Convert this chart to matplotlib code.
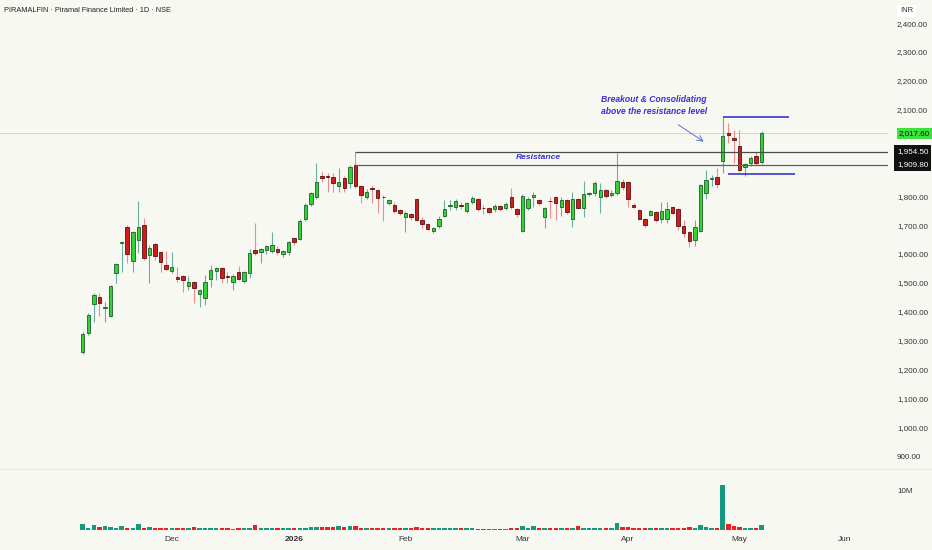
import numpy as np
import matplotlib.pyplot as plt
import matplotlib.transforms as mtransforms

plt.rcParams['font.family'] = ['Liberation Sans', 'DejaVu Sans']

# daily OHLC (INR)
opens = [1260, 1326, 1427, 1451, 1414, 1385, 1534, 1638, 1693, 1575,
         1648, 1700, 1596, 1634, 1607, 1562, 1541, 1520, 1524, 1489,
         1503, 1461, 1447, 1513, 1541, 1551, 1521, 1503, 1537, 1506,
         1534, 1613, 1606, 1613, 1610, 1617, 1600, 1606, 1655, 1652,
         1721, 1773, 1797, 1870, 1868, 1867, 1835, 1863, 1846, 1908,
         1835, 1797, 1826, 1822, 1798, 1776, 1769, 1752, 1728, 1738,
         1790, 1717, 1704, 1679, 1697, 1731, 1765, 1762, 1767, 1749,
         1780, 1790, 1760, 1759, 1756, 1766, 1759, 1797, 1756, 1679,
         1759, 1797, 1787, 1728, 1784, 1797, 1762, 1787, 1721, 1790,
         1759, 1808, 1811, 1797, 1822, 1804, 1811, 1849, 1849, 1769,
         1752, 1721, 1735, 1745, 1721, 1721, 1762, 1756, 1697, 1676,
         1648, 1679, 1813, 1859, 1867, 1922, 2020, 2003, 1975, 1902,
         1914, 1940, 1917]
highs = [1328, 1395, 1465, 1465, 1433, 1492, 1568, 1645, 1700, 1680,
         1783, 1724, 1631, 1638, 1610, 1610, 1607, 1555, 1527, 1524,
         1507, 1478, 1527, 1562, 1555, 1555, 1537, 1531, 1558, 1541,
         1617, 1707, 1620, 1631, 1676, 1627, 1614, 1645, 1660, 1720,
         1776, 1815, 1916, 1885, 1880, 1880, 1898, 1870, 1908, 1953,
         1838, 1825, 1839, 1825, 1805, 1792, 1781, 1756, 1748, 1742,
         1794, 1729, 1708, 1693, 1731, 1787, 1787, 1790, 1780, 1780,
         1801, 1794, 1769, 1762, 1773, 1770, 1780, 1828, 1759, 1808,
         1797, 1815, 1790, 1762, 1798, 1801, 1797, 1790, 1815, 1794,
         1853, 1815, 1853, 1846, 1825, 1822, 1950, 1860, 1853, 1776,
         1756, 1724, 1752, 1749, 1781, 1781, 1766, 1760, 1717, 1680,
         1717, 1843, 1890, 1872, 1898, 2073, 2055, 2029, 2029, 1915,
         1940, 1955, 2027]
lows = [1255, 1320, 1364, 1385, 1364, 1380, 1499, 1537, 1569, 1537,
        1603, 1580, 1499, 1580, 1537, 1545, 1535, 1503, 1468, 1475,
        1430, 1416, 1423, 1485, 1510, 1499, 1499, 1475, 1510, 1500,
        1517, 1596, 1569, 1600, 1605, 1596, 1590, 1596, 1630, 1648,
        1714, 1766, 1790, 1851, 1815, 1815, 1815, 1815, 1829, 1830,
        1776, 1790, 1776, 1742, 1714, 1770, 1741, 1735, 1676, 1717,
        1714, 1690, 1682, 1672, 1690, 1728, 1752, 1752, 1755, 1742,
        1773, 1749, 1738, 1738, 1745, 1749, 1752, 1756, 1728, 1676,
        1752, 1764, 1769, 1690, 1723, 1717, 1730, 1740, 1692, 1755,
        1729, 1800, 1801, 1742, 1795, 1797, 1804, 1822, 1762, 1760,
        1717, 1693, 1730, 1712, 1706, 1706, 1738, 1683, 1660, 1624,
        1627, 1676, 1790, 1835, 1827, 1880, 1983, 1914, 1885, 1870,
        1905, 1910, 1912]
closes = [1322, 1388, 1458, 1430, 1418, 1489, 1565, 1642, 1600, 1676,
          1693, 1586, 1620, 1593, 1572, 1548, 1555, 1514, 1510, 1503,
          1482, 1475, 1503, 1544, 1551, 1517, 1519, 1524, 1513, 1537,
          1603, 1603, 1617, 1627, 1631, 1606, 1610, 1641, 1641, 1714,
          1769, 1811, 1849, 1863, 1866, 1847, 1849, 1828, 1901, 1835,
          1804, 1815, 1824, 1794, 1796, 1787, 1749, 1742, 1742, 1728,
          1717, 1704, 1686, 1690, 1721, 1756, 1767, 1783, 1765, 1776,
          1794, 1756, 1758, 1745, 1766, 1756, 1773, 1762, 1738, 1800,
          1790, 1804, 1776, 1759, 1782, 1776, 1787, 1745, 1790, 1759,
          1808, 1810, 1846, 1822, 1801, 1811, 1853, 1832, 1790, 1762,
          1721, 1700, 1749, 1717, 1749, 1756, 1742, 1697, 1672, 1645,
          1693, 1839, 1855, 1862, 1842, 2008, 2012, 1995, 1891, 1911,
          1931, 1914, 2017.6]
volume_m = [1.5, 0.6, 1.2, 0.85, 0.9, 0.8, 0.6, 1.1, 0.6, 0.5,
            1.5, 0.6, 0.8, 0.55, 0.5, 0.5, 0.45, 0.5, 0.45, 0.5,
            0.7, 0.5, 0.45, 0.5, 0.4, 0.45, 0.4, 0.35, 0.4, 0.5,
            0.55, 1.3, 0.5, 0.45, 0.4, 0.45, 0.4, 0.5, 0.45, 0.6,
            0.55, 0.7, 0.8, 0.8, 0.75, 0.7, 0.9, 0.8, 1.1, 0.9,
            0.6, 0.5, 0.55, 0.5, 0.55, 0.5, 0.55, 0.5, 0.5, 0.6,
            0.8, 0.55, 0.5, 0.45, 0.5, 0.55, 0.4, 0.5, 0.4, 0.45,
            0.4, 0.35, 0.3, 0.3, 0.35, 0.3, 0.35, 0.45, 0.5, 0.9,
            0.5, 0.9, 0.5, 0.5, 0.4, 0.5, 0.5, 0.55, 0.6, 0.9,
            0.6, 0.5, 0.6, 0.5, 0.45, 0.5, 1.8, 0.8, 0.8, 0.5,
            0.45, 0.5, 0.5, 0.6, 0.5, 0.5, 0.55, 0.6, 0.6, 0.7,
            0.6, 1.3, 0.7, 0.6, 0.5, 11.4, 1.6, 1.1, 0.7, 0.4,
            0.5, 0.5, 1.3]

month_labels = ['Dec', '2026', 'Feb', 'Mar', 'Apr', 'May', 'Jun']
month_idx = [16, 38, 58, 79, 98, 118, 137]

price_ticks = [900, 1000, 1100, 1200, 1300, 1400, 1500, 1600, 1700, 1800, 2100, 2200, 2300, 2400]
resistance = [1954.5, 1909.8]
resistance_start = 49
last_price = closes[-1]
box_top, box_bottom = 2073, 1876

bg = '#f8f8f3'
blue_txt = '#3b2fd6'
fig = plt.figure(figsize=(9.32, 5.5), dpi=100, facecolor=bg)
ax = fig.add_axes([0, 1 - 469 / 550, 888 / 932, 469 / 550], facecolor=bg)
axv = fig.add_axes([0, 20 / 550, 888 / 932, 61 / 550], facecolor=bg, sharex=ax)

x = np.arange(len(opens))
o = np.array(opens, float)
h = np.array(highs, float)
l = np.array(lows, float)
c = np.array(closes, float)
up = c >= o

# wicks then bodies
ax.vlines(x[up], l[up], h[up], color='#6aae9f', lw=0.8, zorder=2)
ax.vlines(x[~up], l[~up], h[~up], color='#ec8c8c', lw=0.8, zorder=2)
body = np.maximum(np.abs(c - o), 3)
bottom = np.minimum(o, c)
ax.bar(x[up], body[up], bottom=bottom[up], width=0.62, color='#34d234',
       edgecolor='#1d5e2a', lw=0.6, zorder=3)
ax.bar(x[~up], body[~up], bottom=bottom[~up], width=0.62, color='#d01c1c',
       edgecolor='#5a1010', lw=0.6, zorder=3)

xmin, xmax = -14.86, 144.7
ax.set_xlim(xmin, xmax)
ax.set_ylim(855, 2480)

# last price line and resistance zone
ax.axhline(last_price, color='#b9e6b9', lw=0.7, zorder=1)
ax.hlines(resistance[0], resistance_start, xmax, color='#4a4a4a', lw=0.9, zorder=4)
ax.hlines(resistance[1], resistance_start, xmax, color='#5e5e5e', lw=0.9, zorder=4)
ax.text(81.8, 1936, 'Resistance', color=blue_txt, fontsize=6.1, fontweight='bold',
        fontstyle='italic', ha='center', va='center', zorder=5)

# consolidation box lines
ax.hlines(box_top, 115, 126.9, color='#2727c8', lw=1.1, zorder=4)
ax.hlines(box_bottom, 116, 128, color='#2727c8', lw=1.1, zorder=4)

ax.text(93.1, 2150, 'Breakout & Consolidating\nabove the resistance level', color=blue_txt,
        fontsize=6.2, fontweight='bold', fontstyle='italic', ha='left', va='top',
        linespacing=1.35, zorder=5)
ax.annotate('', xy=(112, 1984), xytext=(106.6, 2053),
            arrowprops=dict(arrowstyle='->', color='#5b73dc', lw=0.7), zorder=5)

# right price scale
ax.yaxis.tick_right()
ax.set_yticks(price_ticks)
ax.set_yticklabels(['{:,.2f}'.format(p) for p in price_ticks])
ax.tick_params(axis='y', length=0, pad=6.5, labelsize=5.8, labelcolor='#333333')
ax.tick_params(axis='x', length=0, labelbottom=False)
for s in ax.spines.values():
    s.set_visible(False)

trans = mtransforms.blended_transform_factory(ax.transAxes, ax.transData)
ax.text(1.0 + 11 / 888, last_price, '{:,.2f}'.format(last_price), transform=trans,
        fontsize=5.8, color='#111111', ha='left', va='center',
        bbox=dict(boxstyle='square,pad=0.25', fc='#3be23b', ec='none'), clip_on=False)
for r in resistance:
    ax.text(1.0 + 9 / 888, r, '{:,.2f}'.format(r), transform=trans,
            fontsize=5.8, color='white', ha='left', va='center',
            bbox=dict(boxstyle='square,pad=0.35', fc='#111111', ec='none'), clip_on=False)
fig.text(900 / 932, 1 - 11 / 550, 'INR', fontsize=5.5, color='#333333', ha='left', va='center',
         bbox=dict(boxstyle='square,pad=0.35', fc='white', ec='none'))

fig.text(4 / 932, 1 - 11 / 550, 'PIRAMALFIN \u00b7 Piramal Finance Limited \u00b7 1D \u00b7 NSE',
         fontsize=5.3, color='#222222', ha='left', va='center')

# volume pane
v = np.array(volume_m)
axv.bar(x, v, width=0.8, color=np.where(up, '#159a80', '#f01e1e'), zorder=2)
axv.set_ylim(0, 15.6)
axv.yaxis.tick_right()
axv.set_yticks([10])
axv.set_yticklabels(['10M'])
axv.tick_params(axis='y', length=0, pad=6.5, labelsize=5.8, labelcolor='#333333')
axv.set_xticks(month_idx)
axv.set_xticklabels(month_labels)
axv.tick_params(axis='x', length=0, pad=4, labelsize=6.0, labelcolor='#333333')
for lab in axv.get_xticklabels():
    if lab.get_text() == '2026':
        lab.set_fontweight('bold')
for s in axv.spines.values():
    s.set_visible(False)
fig.add_artist(plt.Line2D([0, 1], [1 - 469 / 550] * 2, color='#e6e6e0', lw=0.8))

fig.savefig('out.png', dpi=100, facecolor=bg)
